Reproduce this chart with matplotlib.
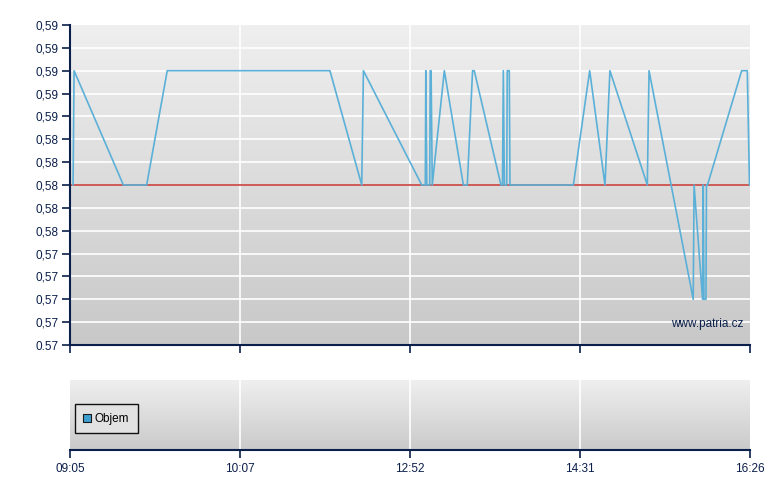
import numpy as np
import matplotlib
matplotlib.use("Agg")
import matplotlib.pyplot as plt
from matplotlib.colors import LinearSegmentedColormap

# ---- data (x in tick-index units) ----
time_labels = ["09:05", "10:07", "12:52", "14:31", "16:26"]
price_x = [0.018, 0.024, 0.314, 0.451, 0.572, 1.529, 1.716, 1.726, 2.069, 2.090,
           2.093, 2.099, 2.116, 2.119, 2.124, 2.131, 2.202, 2.314, 2.337, 2.368,
           2.378, 2.535, 2.544, 2.549, 2.555, 2.569, 2.572, 2.584, 2.588, 2.961,
           3.057, 3.147, 3.176, 3.396, 3.406, 3.666, 3.671, 3.721, 3.725, 3.729,
           3.741, 3.744, 3.750, 3.951, 3.984, 3.997]
price_y = [0.58, 0.59, 0.58, 0.58, 0.59, 0.59, 0.58, 0.59, 0.58, 0.58,
           0.59, 0.58, 0.58, 0.59, 0.59, 0.58, 0.59, 0.58, 0.58, 0.59,
           0.59, 0.58, 0.58, 0.59, 0.58, 0.58, 0.59, 0.59, 0.58, 0.58,
           0.59, 0.58, 0.59, 0.58, 0.59, 0.57, 0.58, 0.57, 0.58, 0.57,
           0.57, 0.58, 0.58, 0.59, 0.59, 0.58]
reference_price = 0.58
y_ticks = [0.566, 0.568, 0.570, 0.572, 0.574, 0.576, 0.578, 0.580,
           0.582, 0.584, 0.586, 0.588, 0.590, 0.592, 0.594]
y_tick_labels = ["0.57", "0,57", "0,57", "0,57", "0,57", "0,58", "0,58", "0,58",
                 "0,58", "0,58", "0,59", "0,59", "0,59", "0,59", "0,59"]
legend_label = "Objem"
watermark = "www.patria.cz"

navy = "#0b1f4b"
plt.rcParams["font.family"] = ["Liberation Sans", "DejaVu Sans"]

fig = plt.figure(figsize=(7.8, 4.9), dpi=100)
W, H = 780, 490
ax = fig.add_axes([70 / W, (H - 345) / H, 680 / W, 320 / H])
axv = fig.add_axes([70 / W, (H - 450) / H, 680 / W, 70 / H])

cmap_main = LinearSegmentedColormap.from_list("g1", ["#c8c8c8", "#efefef"])
cmap_vol = LinearSegmentedColormap.from_list("g2", ["#cacaca", "#efefef"])
grad = np.linspace(0, 1, 256).reshape(-1, 1)

for a, cm in ((ax, cmap_main), (axv, cmap_vol)):
    a.imshow(grad, extent=[0, 1, 0, 1], transform=a.transAxes, aspect="auto",
             cmap=cm, origin="lower", zorder=0)
    a.set_xlim(0, len(time_labels) - 1)
    a.set_xticks(range(len(time_labels)))
    for xv in range(1, len(time_labels) - 1):
        a.axvline(xv, color="white", lw=1.2, zorder=1)
    for s in ("top", "right"):
        a.spines[s].set_visible(False)
    a.spines["bottom"].set_color(navy)
    a.spines["bottom"].set_linewidth(1.5)
    a.tick_params(axis="x", direction="out", length=6, width=1.2, color=navy,
                  labelcolor=navy, labelsize=8.5, pad=3)

# main price chart
ax.set_ylim(y_ticks[0], y_ticks[-1])
ax.set_yticks(y_ticks)
ax.set_yticklabels(y_tick_labels)
for yv in y_ticks[1:-1]:
    ax.axhline(yv, color="white", lw=1.2, zorder=1)
ax.spines["left"].set_color(navy)
ax.spines["left"].set_linewidth(1.5)
ax.tick_params(axis="y", direction="out", length=6, width=1.2, color=navy,
               labelcolor=navy, labelsize=8.5, pad=2)
ax.tick_params(axis="x", labelbottom=False)
ax.axhline(reference_price, color="#c0302a", lw=1.1, zorder=2)
ax.plot(price_x, price_y, color="#5bb0d8", lw=1.2, zorder=3)
ax.text(0.99, 0.065, watermark, transform=ax.transAxes, ha="right", va="center",
        color=navy, fontsize=8.5, zorder=4)

# volume chart
axv.set_ylim(0, 1)
axv.set_yticks([])
axv.spines["left"].set_visible(False)
axv.set_xticklabels(time_labels)
axv.scatter([], [], marker="s", s=40, color="#3d9fd1", edgecolor="#1a1a1a",
            linewidths=0.8, label=legend_label)
leg = axv.legend(loc="center left", bbox_to_anchor=(0.007, 0.45), frameon=True,
                 fancybox=False, fontsize=8.5, handlelength=0.6, handletextpad=0.3,
                 borderpad=0.75, borderaxespad=0)
leg.get_frame().set_edgecolor("#111111")
leg.get_frame().set_facecolor("#e2e2e2")
leg.get_frame().set_linewidth(1.0)
leg.get_frame().set_alpha(1)

fig.savefig("out.png", dpi=100)
